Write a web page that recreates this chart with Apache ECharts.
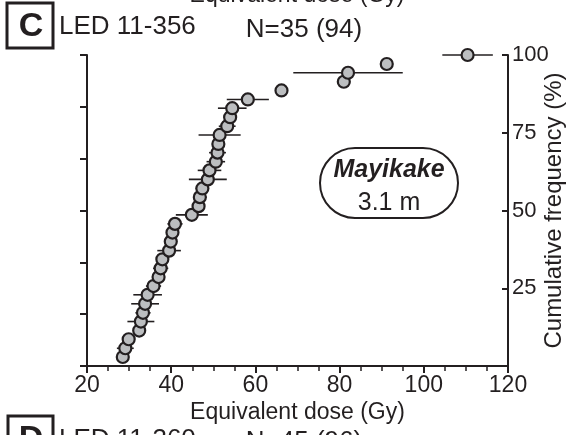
<!DOCTYPE html>
<html><head><meta charset="utf-8">
<script src="https://cdn.jsdelivr.net/npm/echarts@6/dist/echarts.min.js"></script>
<style>html,body{margin:0;padding:0;background:#fff}#c{width:573px;height:435px}</style>
</head><body><div id="c"></div>
<script>
// Equivalent dose (Gy) of each aliquot, sorted
const doses = [28.5, 29.1, 29.9, 32.4, 32.8, 33.3, 33.8, 34.4, 35.8, 37.0, 37.5, 37.9, 39.5, 39.9, 40.3, 40.9, 44.9, 46.5, 46.8, 47.4, 48.7, 49.1, 50.6, 51.0, 51.2, 51.5, 53.3, 54.0, 54.5, 58.2, 66.2, 81.0, 82.0, 91.2, 110.4];
// 1-sigma error (Gy)
const errors = [1.0, 2.0, 1.2, 1.5, 3.2, 1.8, 3.3, 3.4, 1.8, 1.0, 1.8, 1.0, 2.8, 1.5, 1.0, 1.8, 3.8, 1.0, 1.6, 1.6, 4.5, 2.8, 2.2, 2.0, 1.2, 5.0, 2.0, 1.5, 3.4, 5.0, 1.0, 1.5, 13.0, 1.0, 6.0];
// Cumulative frequency (%)
const cumFreq = [2.9, 5.7, 8.6, 11.4, 14.3, 17.1, 20.0, 22.9, 25.7, 28.6, 31.4, 34.3, 37.1, 40.0, 42.9, 45.7, 48.6, 51.4, 54.3, 57.1, 60.0, 62.9, 65.7, 68.6, 71.4, 74.3, 77.1, 80.0, 82.9, 85.7, 88.6, 91.4, 94.3, 97.1, 100.0];
const xTickLabels = ['20', '40', '60', '80', '100', '120'];
const yTickLabels = ['25', '50', '75', '100'];

const FONT = '"Liberation Sans", Arial, Helvetica, sans-serif';
const INK = '#231f20';

const chart = echarts.init(document.getElementById('c'), null, {renderer: 'canvas'});
const scatterData = doses.map((d, i) => [d, cumFreq[i]]);
const errData = doses.map((d, i) => [d, cumFreq[i], d - errors[i], d + errors[i]]);

function txt(text, x, y, font, align) {
  return {type: 'text', x: x, y: y, silent: true,
    style: {text: text, font: font, fill: INK, align: align || 'left', verticalAlign: 'middle',
            textAlign: align || 'left', textVerticalAlign: 'middle'}};
}

chart.setOption({
  animation: false,
  backgroundColor: '#fff',
  grid: {left: 87, right: 65, top: 55, bottom: 69, containLabel: false, outerBoundsMode: 'none'},
  xAxis: {
    type: 'value', min: 20, max: 120, interval: 20,
    name: 'Equivalent dose (Gy)', nameLocation: 'middle', nameGap: 35, nameMoveOverlap: false,
    nameTextStyle: {fontFamily: FONT, fontSize: 23, color: INK},
    axisLine: {show: true, onZero: false, lineStyle: {color: INK, width: 2}},
    axisTick: {show: true, inside: false, length: 7, lineStyle: {color: INK, width: 2}},
    minorTick: {show: true, splitNumber: 4, length: 5, lineStyle: {color: INK, width: 1.5}},
    splitLine: {show: false},
    axisLabel: {fontFamily: FONT, fontSize: 23, color: INK, margin: 8,
      formatter: v => xTickLabels.indexOf(String(v)) >= 0 ? String(v) : ''}
  },
  yAxis: [
    {
      type: 'value', position: 'right', min: 0, max: 100, interval: 25,
      name: 'Cumulative frequency (%)', nameLocation: 'middle', nameGap: 34, nameRotate: 90,
      nameMoveOverlap: false,
      nameTextStyle: {fontFamily: FONT, fontSize: 24, color: INK},
      axisLine: {show: true, onZero: false, lineStyle: {color: INK, width: 2}},
      axisTick: {show: true, inside: true, length: 6, lineStyle: {color: INK, width: 2}},
      splitLine: {show: false},
      axisLabel: {fontFamily: FONT, fontSize: 22, color: INK, margin: 4,
        formatter: v => yTickLabels.indexOf(String(v)) >= 0 ? String(v) : ''}
    },
    {
      type: 'value', position: 'left', min: 0, max: 6, interval: 1,
      axisLine: {show: true, onZero: false, lineStyle: {color: INK, width: 2}},
      axisTick: {show: true, inside: false, length: 7, lineStyle: {color: INK, width: 2}},
      splitLine: {show: false},
      axisLabel: {show: false}
    }
  ],
  series: [
    {
      type: 'custom', yAxisIndex: 0, z: 2, silent: true,
      data: errData,
      encode: {x: [0, 2, 3], y: 1},
      renderItem: function (params, api) {
        const y = api.value(1);
        const p1 = api.coord([api.value(2), y]);
        const p2 = api.coord([api.value(3), y]);
        return {type: 'line', shape: {x1: p1[0], y1: p1[1], x2: p2[0], y2: p2[1]},
          style: {stroke: INK, lineWidth: 1.6}};
      }
    },
    {
      type: 'scatter', yAxisIndex: 0, z: 3, clip: false,
      data: scatterData, symbol: 'circle', symbolSize: 12,
      itemStyle: {color: '#bcbec0', borderColor: INK, borderWidth: 2.2, opacity: 1}
    }
  ],
  graphic: [
    // previous panel's axis name (cut off at top)
    txt('Equivalent dose (Gy)', 297, -4, '23px ' + FONT, 'center'),
    {type: 'rect', shape: {x: 7, y: 3, width: 46, height: 45}, silent: true,
      style: {fill: 'none', stroke: INK, lineWidth: 3}},
    txt('C', 31, 27, 'bold 34px ' + FONT, 'center'),
    txt('LED 11-356', 59, 27, '26px ' + FONT, 'left'),
    txt('N=35 (94)', 304, 30, '26px ' + FONT, 'center'),
    {type: 'rect', shape: {x: 320, y: 148, width: 138, height: 70, r: 35}, silent: true,
      style: {fill: '#fff', stroke: INK, lineWidth: 2}},
    txt('Mayikake', 389, 170, 'italic bold 25px ' + FONT, 'center'),
    txt('3.1 m', 389, 203, '25px ' + FONT, 'center'),
    // next panel (cut off at bottom)
    {type: 'rect', shape: {x: 8, y: 416, width: 45, height: 45}, silent: true,
      style: {fill: 'none', stroke: INK, lineWidth: 3}},
    txt('D', 31, 440, 'bold 34px ' + FONT, 'center'),
    txt('LED 11-360', 59, 440, '26px ' + FONT, 'left'),
    txt('N=45 (96)', 304, 442, '26px ' + FONT, 'center')
  ]
});
</script>
</body></html>
